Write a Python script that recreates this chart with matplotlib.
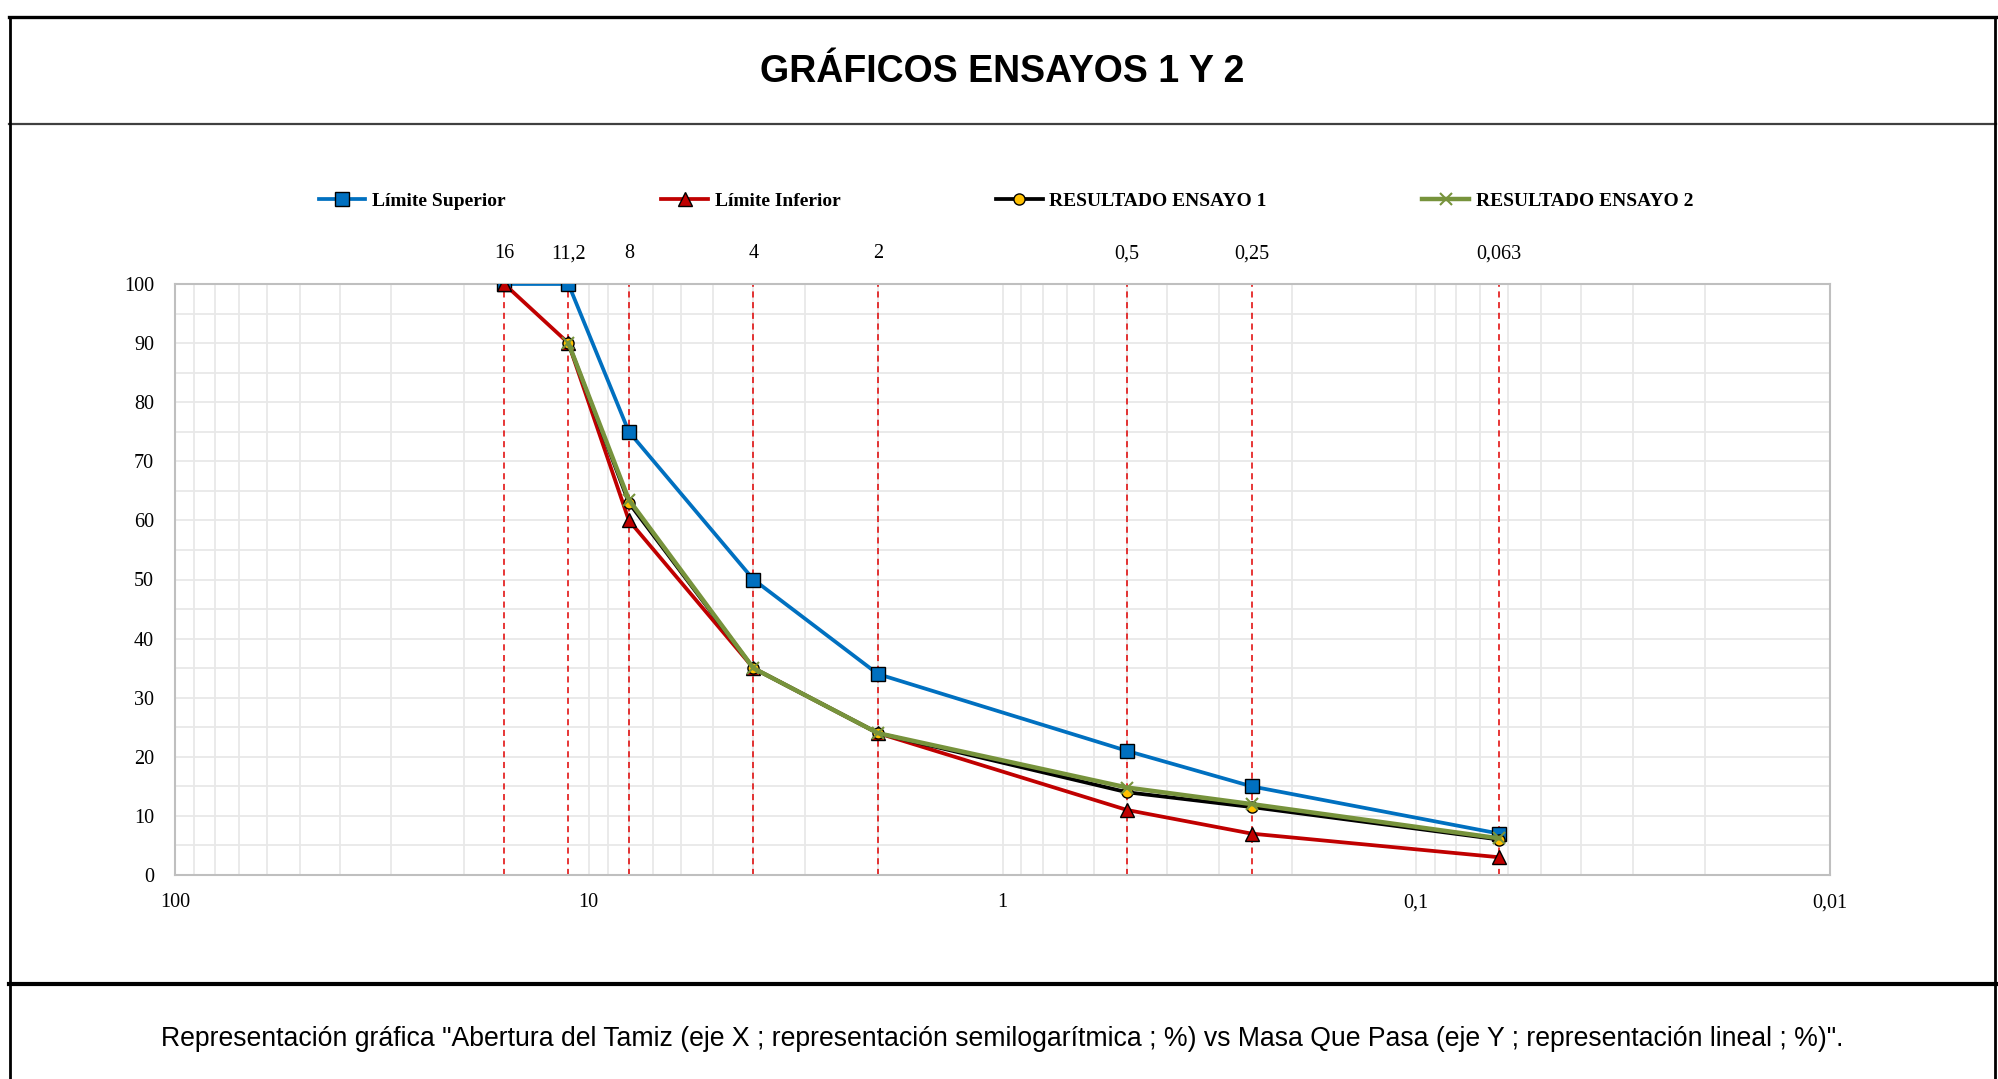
import numpy as np
from matplotlib import pyplot as plt
from matplotlib.lines import Line2D
from matplotlib.ticker import MultipleLocator, LogLocator, NullFormatter, NullLocator

# sieve openings (mm) and % passing
tamices = [16, 11.2, 8, 4, 2, 0.5, 0.25, 0.063]
tamiz_labels = ['16', '11,2', '8', '4', '2', '0,5', '0,25', '0,063']
lim_sup = [100, 100, 75, 50, 34, 21, 15, 7]
lim_inf = [100, 90, 60, 35, 24, 11, 7, 3]
ensayo1 = [np.nan, 90, 63, 35, 24, 14, 11.5, 6]
ensayo2 = [np.nan, 90, 63.5, 35, 24, 14.8, 12, 6.2]
x_ticks = [100, 10, 1, 0.1, 0.01]
x_tick_labels = ['100', '10', '1', '0,1', '0,01']

W, H = 1998, 1079
serif = 'Liberation Serif'
sans = 'Liberation Sans'


def fx(px):
    return px / W


def fy(py):
    return 1 - py / H


fig = plt.figure(figsize=(W / 100, H / 100), dpi=100)
ax = fig.add_axes([fx(175), fy(875), fx(1830) - fx(175), fy(284) - fy(875)])

ax.set_xscale('log')
ax.set_xlim(100, 0.01)
ax.set_ylim(0, 100)
ax.set_xticks(x_ticks, labels=x_tick_labels)
ax.xaxis.set_minor_locator(LogLocator(base=10, subs=np.arange(2, 10)))
ax.xaxis.set_minor_formatter(NullFormatter())
ax.yaxis.set_major_locator(MultipleLocator(10))
ax.yaxis.set_minor_locator(MultipleLocator(5))
ax.grid(which='both', color='#e8e8e8', lw=1.3, zorder=0)
ax.set_axisbelow(True)
ax.tick_params(which='both', length=0)
ax.tick_params(axis='x', pad=13)
ax.tick_params(axis='y', pad=15)
for lab in ax.get_xticklabels() + ax.get_yticklabels():
    lab.set_fontfamily(serif)
    lab.set_fontsize(14.5)
for s in ax.spines.values():
    s.set_color('#bfbfbf')
    s.set_linewidth(1.5)

# dashed sieve lines
ax.vlines(tamices, 0, 100, colors='#e00000', linestyles=(0, (4, 3)), lw=1.1, zorder=1.5)

l1, = ax.plot(tamices, lim_sup, color='#0070c0', lw=2.7, marker='s', ms=9.5,
              mfc='#0070c0', mec='black', mew=1, zorder=3)
l2, = ax.plot(tamices, lim_inf, color='#c00000', lw=2.7, marker='^', ms=10,
              mfc='#c00000', mec='black', mew=1, zorder=3)
l3, = ax.plot(tamices, ensayo1, color='black', lw=2.7, marker='o', ms=8,
              mfc='#ffc000', mec='black', mew=1, zorder=3)
l4, = ax.plot(tamices, ensayo2, color='#77933c', lw=3.2, marker='x', ms=8,
              mec='#77933c', mew=1.5, zorder=3)

secax = ax.secondary_xaxis('top')
secax.set_xticks(tamices, labels=tamiz_labels)
secax.xaxis.set_minor_locator(NullLocator())
secax.tick_params(which='both', length=0, pad=15)
secax.spines['top'].set_visible(False)
for lab in secax.get_xticklabels():
    lab.set_fontfamily(serif)
    lab.set_fontsize(14.5)

fig.legend([l1, l2, l3, l4],
           ['Límite Superior', 'Límite Inferior', 'RESULTADO ENSAYO 1', 'RESULTADO ENSAYO 2'],
           loc='center', bbox_to_anchor=(fx(1006), fy(201)), ncol=4, frameon=False,
           columnspacing=8, handlelength=2.4, handletextpad=0.35,
           prop={'family': serif, 'weight': 'bold', 'size': 14})

# frame and boxes
fig.text(fx(1002), fy(72), 'GRÁFICOS ENSAYOS 1 Y 2', ha='center', va='center',
         fontfamily=sans, fontweight='bold', fontsize=27)
fig.text(fx(1002), fy(1039), 'Representación gráfica "Abertura del Tamiz (eje X ; representación '
         'semilogarítmica ; %) vs Masa Que Pasa (eje Y ; representación lineal ; %)".',
         ha='center', va='center', fontfamily=sans, fontsize=19.2)

fig.add_artist(Line2D([fx(9), fx(1996)], [fy(17), fy(17)], color='black', lw=2.4))
fig.add_artist(Line2D([fx(9), fx(1996)], [fy(124), fy(124)], color='#404040', lw=1.6))
fig.add_artist(Line2D([fx(9), fx(1996)], [fy(984), fy(984)], color='black', lw=3))
fig.add_artist(Line2D([fx(10), fx(10)], [fy(17), fy(1079)], color='black', lw=2))
fig.add_artist(Line2D([fx(1995), fx(1995)], [fy(17), fy(1079)], color='black', lw=2))

plt.savefig('out.png', dpi=100)
